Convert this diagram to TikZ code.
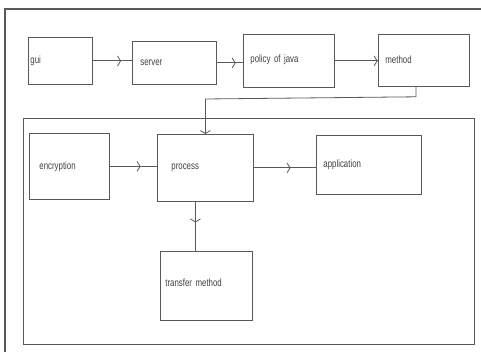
\documentclass[tikz,border=0pt]{standalone}
\usepackage{fontspec}
\setmainfont{Liberation Sans}[FakeStretch=0.75]
\usetikzlibrary{arrows.meta,decorations.markings}

\begin{document}
\begin{tikzpicture}[x=1pt,y=-1pt,every node/.style={font=\fontsize{10.5}{12}\selectfont,text=black!75},
box/.style={draw=black!65,line width=0.8pt,rectangle,anchor=north west,align=left,inner xsep=7pt,inner ysep=0pt},
link/.style={draw=black!65,line width=0.8pt},
tip/.style={link,postaction={decorate},decoration={markings,mark=at position #1 with {\arrow[black!65,line width=0.8pt]{Straight Barb[length=3pt,width=10pt]}}}}]
\useasboundingbox (0,0) rectangle (481,352);
\draw[link,line width=1.2pt] (481,9) -- (5,9) -- (5,352);
\draw[link] (23,118) rectangle (474,344);
\node[box,minimum width=64pt,minimum height=47pt,text width=60pt,inner xsep=1pt] (gui) at (28,37) {gui};
\node[box,minimum width=82pt,minimum height=43pt,text width=68pt,inner xsep=8pt] (server) at (132,41) {\raisebox{-4pt}{server}};
\node[box,minimum width=91pt,minimum height=53pt,text width=77pt] (policy) at (243,34) {\raisebox{4pt}{policy of java}};
\node[box,minimum width=91pt,minimum height=52pt,text width=77pt] (method) at (378,34) {\raisebox{2pt}{method}};
\node[box,minimum width=80pt,minimum height=66pt,text width=60pt,inner xsep=10pt] (encryption) at (29,133) {encryption};
\node[box,minimum width=96pt,minimum height=67pt,text width=68pt,inner xsep=14pt] (process) at (157,134) {process};
\node[box,minimum width=105pt,minimum height=59pt,text width=91pt] (application) at (316,135) {\raisebox{2pt}{application}};
\node[box,minimum width=92pt,minimum height=69pt,text width=82pt,inner xsep=5pt] (transfer) at (160,251) {\raisebox{7pt}{transfer method}};
\draw[tip=0.72] (gui.east) -- (gui.east -| server.west);
\draw[tip=0.72] (server.east) -- (server.east -| policy.west);
\draw[tip=0.99] (policy.east) -- (policy.east -| method.west);
\draw[link,-{Straight Barb[length=3pt,width=10pt]}] ([xshift=-8pt]method.south) -- ++(0,10) -- ([yshift=-2pt]process.north |- 0,97) -- (process.north);
\draw[tip=0.65] (encryption.east) -- (encryption.east -| process.west);
\draw[tip=0.59] (process.east) -- (process.east -| application.west);
\draw[tip=0.42] ([xshift=-10pt]process.south) -- ([xshift=-10pt]process.south |- transfer.north);
\end{tikzpicture}
\end{document}
